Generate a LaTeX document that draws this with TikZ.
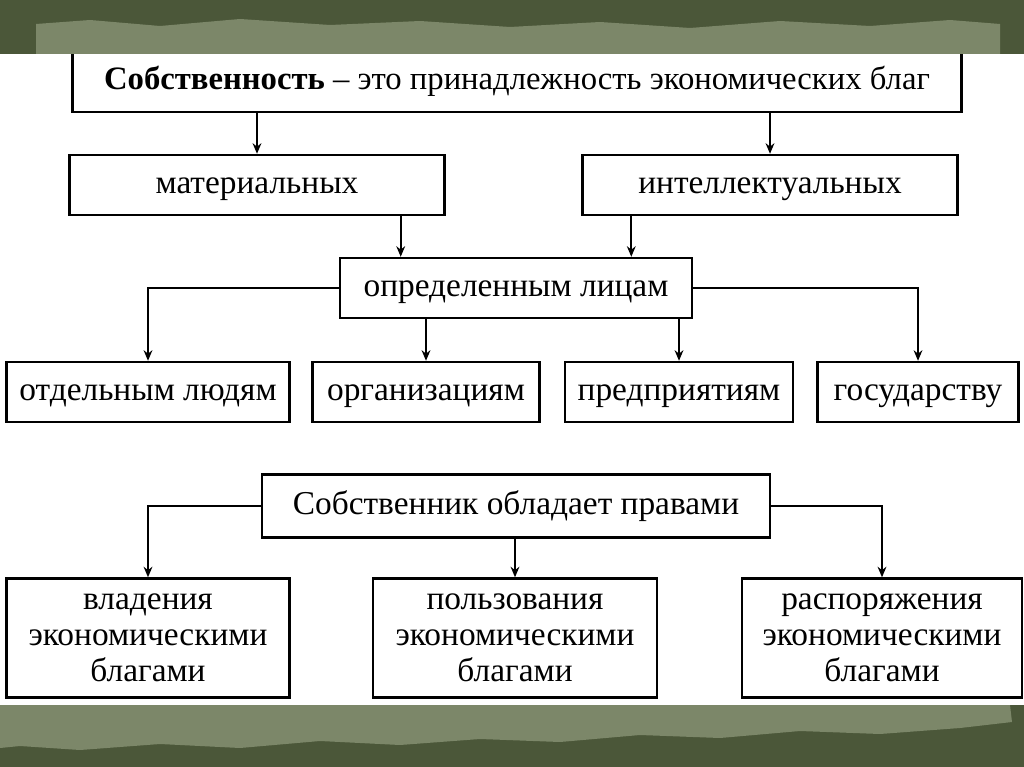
\documentclass[tikz,border=0pt]{standalone}
\usepackage{fontspec}
\setmainfont{Liberation Serif}
\usetikzlibrary{positioning,arrows.meta}
\definecolor{framedk}{HTML}{4B5739}
\definecolor{framelt}{HTML}{7C8769}
\begin{document}
\begin{tikzpicture}[x=0.02cm, y=-0.02cm,
  bx/.style={draw, line width=1.4pt, minimum height=1.2cm, inner sep=2pt,
    text height=2.6ex, text depth=0.6ex, font=\fontsize{19}{19}\selectfont},
  bx3/.style={draw, line width=1.4pt, minimum height=2.38cm, align=center, inner sep=2pt,
    font=\fontsize{19}{20.5}\selectfont},
  ln/.style={line width=1pt},
  >={Stealth[length=6pt,width=5pt]}]
  \useasboundingbox (0,0) rectangle (1024,767);
  \fill[white] (0,0) rectangle (1024,767);
  % blocks
  \node[bx, minimum width=17.78cm, minimum height=1.24cm, font=\fontsize{18.6}{19}\selectfont] (own) at (517,81)
    {\textbf{Собственность} -- это принадлежность экономических благ};
  \node[bx, minimum width=7.5cm] (mat) at (257,185) {материальных};
  \node[bx, minimum width=7.5cm] (intl) at (770,185) {интеллектуальных};
  \node[bx, minimum width=7.04cm] (pers) at (516,288) {определенным лицам};
  \node[bx, minimum width=5.66cm] (ppl) at (148,392) {отдельным людям};
  \node[bx, minimum width=4.54cm] (org) at (426,392) {организациям};
  \node[bx, minimum width=4.56cm] (firm) at (679,392) {предприятиям};
  \node[bx, minimum width=4.02cm] (state) at (918,392) {государству};
  \node[bx, minimum width=10.16cm, minimum height=1.26cm] (owner) at (516,506) {Собственник обладает правами};
  \node[bx3, minimum width=5.66cm] (hold) at (148,638) {владения\\экономическими\\благами};
  \node[bx3, minimum width=5.68cm] (use) at (515,638) {пользования\\экономическими\\благами};
  \node[bx3, minimum width=5.6cm] (disp) at (882,638) {распоряжения\\экономическими\\благами};
  % arrows
  \draw[ln,->] (own.south -| mat.north) -- (mat.north);
  \draw[ln,->] (own.south -| intl.north) -- (intl.north);
  \draw[ln,->] ([xshift=-0.9cm]mat.south east) -- ([xshift=-0.9cm]mat.south east |- pers.north);
  \draw[ln,->] ([xshift=1cm]intl.south west) -- ([xshift=1cm]intl.south west |- pers.north);
  \draw[ln,->] (pers.west) -| (ppl.north);
  \draw[ln,->] (pers.south -| org.north) -- (org.north);
  \draw[ln,->] (pers.south -| firm.north) -- (firm.north);
  \draw[ln,->] (pers.east) -| (state.north);
  \draw[ln,->] (owner.west) -| (hold.north);
  \draw[ln,->] (owner.south -| use.north) -- (use.north);
  \draw[ln,->] (owner.east) -| (disp.north);
  % frame bands
  \fill[framedk] (0,0) rectangle (1024,54);
  \fill[framelt] (36,54) -- (36,24) -- (90,20) -- (160,26) -- (240,19) -- (330,25) -- (420,21)
    -- (510,27) -- (600,22) -- (690,28) -- (780,21) -- (870,26) -- (950,20) -- (1000,24) -- (1000,54) -- cycle;
  \fill[framedk] (0,705) rectangle (1024,767);
  \fill[framelt] (0,705) -- (1010,705) -- (1012,722) -- (960,728) -- (880,734) -- (800,731) -- (720,738)
    -- (640,735) -- (560,742) -- (480,739) -- (400,745) -- (320,741) -- (240,748) -- (160,744)
    -- (80,750) -- (20,746) -- (0,748) -- cycle;
\end{tikzpicture}
\end{document}
